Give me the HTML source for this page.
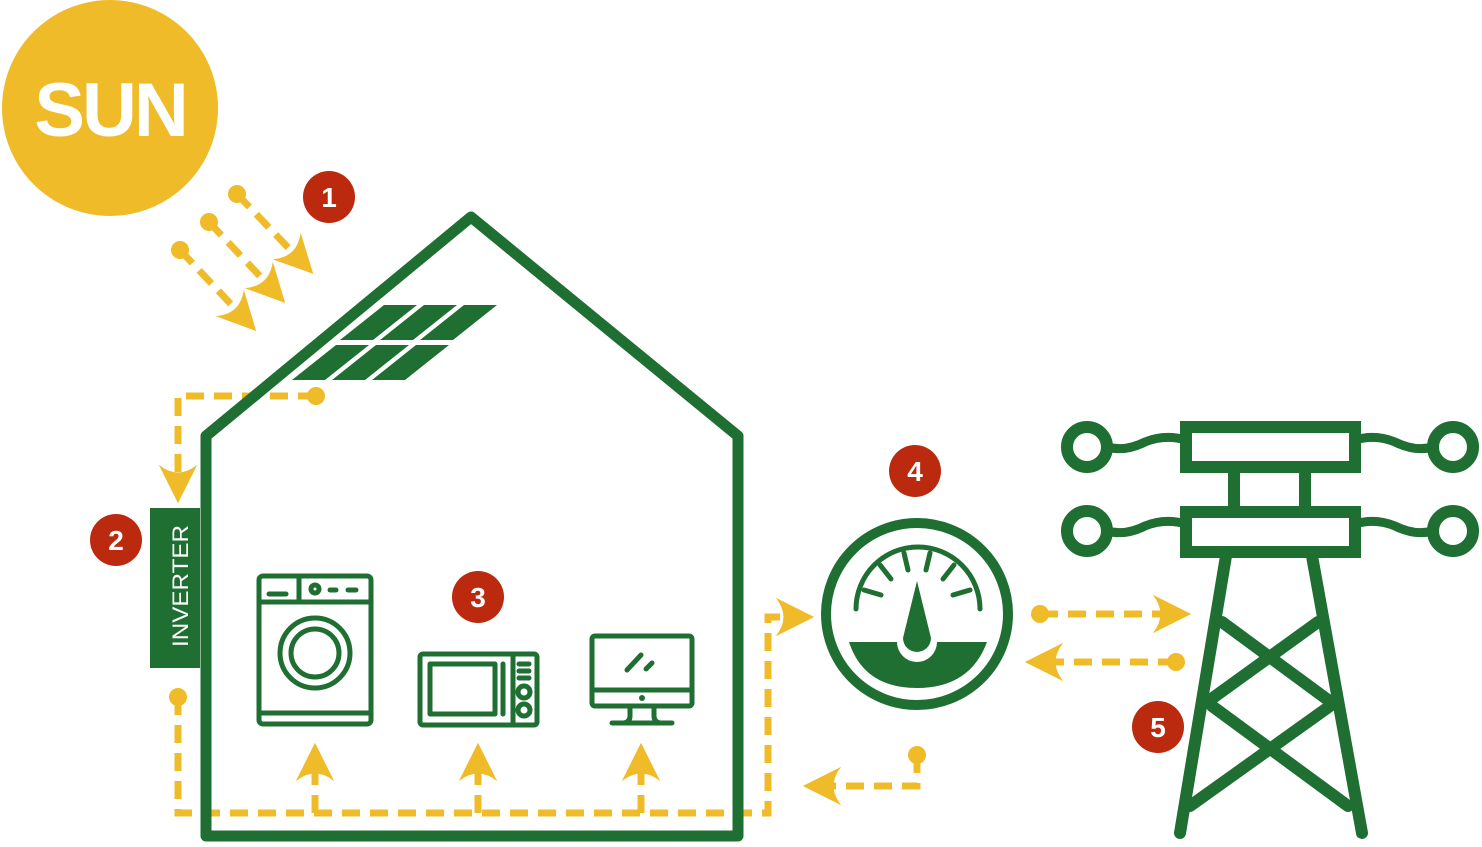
<!DOCTYPE html>
<html><head><style>html,body{margin:0;padding:0;background:#fff}svg{display:block}</style></head><body>
<svg width="1482" height="847" viewBox="0 0 1482 847" xmlns="http://www.w3.org/2000/svg">
<defs>
<marker id="ah" viewBox="0 0 20 20" refX="10" refY="10" markerWidth="5.5" markerHeight="5.5" orient="auto" markerUnits="strokeWidth">
<path d="M0,0 Q8,10 0,20 L20,10 Z" fill="#f0bb29"/>
</marker>
</defs>
<g fill="none" stroke="#f0bb29" stroke-width="7" stroke-dasharray="18 10">
<path d="M237,194 L300,260" marker-end="url(#ah)"/>
<path d="M209,222 L272,289" marker-end="url(#ah)"/>
<path d="M180,250 L243,317" marker-end="url(#ah)"/>
<path d="M316,396 L178,396 L178,484" marker-end="url(#ah)"/>
<path d="M178,697 L178,813 L768,813 L768,617 L795,617" marker-end="url(#ah)"/>
<path d="M315,813 L315,762" marker-end="url(#ah)"/>
<path d="M478,813 L478,762" marker-end="url(#ah)"/>
<path d="M641,813 L641,762" marker-end="url(#ah)"/>
<path d="M917,755 L917,786 L822,786" marker-end="url(#ah)"/>
<path d="M1040,614 L1172,614" marker-end="url(#ah)"/>
<path d="M1176,662 L1044,662" marker-end="url(#ah)"/>
</g>
<g fill="#f0bb29">
<circle cx="237" cy="194" r="9"/><circle cx="209" cy="222" r="9"/><circle cx="180" cy="250" r="9"/>
<circle cx="316" cy="396" r="9"/><circle cx="178" cy="697" r="9"/><circle cx="917" cy="755" r="9"/>
<circle cx="1040" cy="614" r="9"/><circle cx="1176" cy="662" r="9"/>
</g>
<circle cx="110" cy="108" r="108" fill="#f0bb29"/>
<text x="110" y="136" text-anchor="middle" font-family="Liberation Sans, sans-serif" font-weight="bold" font-size="76" fill="#fff" letter-spacing="-3">SUN</text>
<path d="M206,836 L206,436 L471,217 L738,436 L738,836 Z" fill="none" stroke="#1f6e32" stroke-width="11" stroke-linejoin="round"/>
<g fill="#1f6e32">
<path d="M340,340 L384,305 L417,305 L373,340 Z"/>
<path d="M380,340 L424,305 L457,305 L413,340 Z"/>
<path d="M420,340 L464,305 L497,305 L453,340 Z"/>
<path d="M292,380 L336,345 L369,345 L325,380 Z"/>
<path d="M332,380 L376,345 L409,345 L365,380 Z"/>
<path d="M372,380 L416,345 L449,345 L405,380 Z"/>
</g>
<rect x="150" y="508" width="50" height="160" fill="#1f6e32"/>
<text transform="translate(188,586) rotate(-90)" text-anchor="middle" font-family="Liberation Sans, sans-serif" font-size="22" fill="#fff" textLength="122" lengthAdjust="spacingAndGlyphs">INVERTER</text>
<g fill="none" stroke="#1f6e32" stroke-width="5" stroke-linecap="round" stroke-linejoin="round">
<rect x="259" y="576" width="112" height="148" rx="4"/>
<line x1="259" y1="602" x2="371" y2="602"/><line x1="299" y1="576" x2="299" y2="602"/>
<line x1="269" y1="594" x2="286" y2="594"/><circle cx="315" cy="589" r="4"/>
<line x1="330" y1="590" x2="336" y2="590"/><line x1="348" y1="590" x2="356" y2="590"/>
<line x1="259" y1="713" x2="371" y2="713"/>
<circle cx="315" cy="653" r="35"/><circle cx="315" cy="653" r="24"/>
<rect x="420" y="654" width="117" height="71" rx="3"/>
<rect x="430" y="664" width="65" height="50"/>
<line x1="503" y1="664" x2="503" y2="714"/><line x1="513" y1="654" x2="513" y2="725"/>
<line x1="519" y1="664" x2="529" y2="664"/><line x1="519" y1="671" x2="529" y2="671"/><line x1="519" y1="678" x2="529" y2="678"/>
<circle cx="524" cy="692" r="6"/><circle cx="524" cy="710" r="6"/>
<rect x="592" y="636" width="100" height="70" rx="3"/>
<line x1="592" y1="690" x2="692" y2="690"/>
<line x1="627" y1="670" x2="641" y2="655"/><line x1="646" y1="669" x2="652" y2="663"/>
<path d="M630,706 L630,716 Q630,722 624,723 L612,723 L672,723 L660,723 Q654,722 654,716 L654,706"/>
</g>
<circle cx="642" cy="698" r="3" fill="#1f6e32"/>
<circle cx="917" cy="614" r="91" fill="none" stroke="#1f6e32" stroke-width="10"/>
<g fill="none" stroke="#1f6e32" stroke-width="5" stroke-linecap="round">
<path d="M856,609 A62,62 0 0 1 980,609"/>
<line x1="864" y1="590" x2="881" y2="595"/><line x1="880" y1="565" x2="891" y2="579"/>
<line x1="904" y1="553" x2="908" y2="570"/><line x1="930" y1="553" x2="926" y2="570"/>
<line x1="954" y1="565" x2="943" y2="579"/><line x1="970" y1="590" x2="953" y2="595"/>
</g>
<path d="M849,642 L987,642 Q970,688 917,688 Q864,688 849,642 Z M897,642 A20,20 0 0 0 937,642 Z" fill="#1f6e32" fill-rule="evenodd"/>
<path d="M917,581 L903,638 A14,14 0 1 0 931,638 Z" fill="#1f6e32"/>
<g fill="none" stroke="#1f6e32" stroke-width="12" stroke-linecap="round">
<rect x="1186" y="427" width="169" height="40"/>
<rect x="1186" y="512" width="169" height="40"/>
<line x1="1234" y1="467" x2="1234" y2="512"/><line x1="1305" y1="467" x2="1305" y2="512"/>
<circle cx="1087" cy="447" r="20"/><circle cx="1087" cy="531" r="20"/>
<circle cx="1453" cy="447" r="20"/><circle cx="1453" cy="531" r="20"/>
<path d="M1107,447 Q1125,452 1145,442 Q1165,434 1186,440" stroke-width="9"/>
<path d="M1107,531 Q1125,536 1145,526 Q1165,518 1186,524" stroke-width="9"/>
<path d="M1433,447 Q1415,452 1395,442 Q1375,434 1355,440" stroke-width="9"/>
<path d="M1433,531 Q1415,536 1395,526 Q1375,518 1355,524" stroke-width="9"/>
<line x1="1226" y1="556" x2="1180" y2="833"/><line x1="1312" y1="556" x2="1362" y2="833"/>
<line x1="1222" y1="622" x2="1328" y2="700"/><line x1="1318" y1="622" x2="1210" y2="700"/>
<line x1="1212" y1="706" x2="1348" y2="806"/><line x1="1330" y1="706" x2="1190" y2="806"/>
</g>
<g font-family="Liberation Sans, sans-serif" font-weight="bold" font-size="28" fill="#fff" text-anchor="middle">
<circle cx="329" cy="197" r="26" fill="#bb2a0e"/><text x="329" y="207">1</text>
<circle cx="116" cy="540" r="26" fill="#bb2a0e"/><text x="116" y="550">2</text>
<circle cx="478" cy="597" r="26" fill="#bb2a0e"/><text x="478" y="607">3</text>
<circle cx="915" cy="471" r="26" fill="#bb2a0e"/><text x="915" y="481">4</text>
<circle cx="1158" cy="727" r="26" fill="#bb2a0e"/><text x="1158" y="737">5</text>
</g>
</svg>
</body></html>
